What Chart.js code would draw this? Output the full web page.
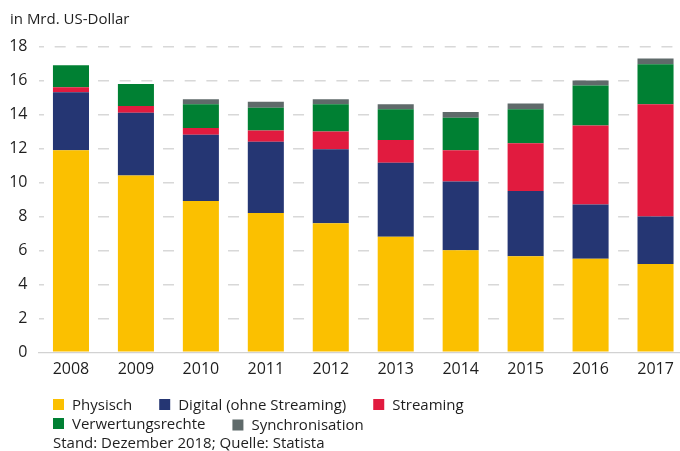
<!DOCTYPE html>
<html>
<head>
<meta charset="utf-8">
<script src="https://cdn.jsdelivr.net/npm/chart.js@4.4.1/dist/chart.umd.min.js"></script>
<style>
  html, body { margin: 0; padding: 0; background: #fff; overflow: hidden; }
  #wrap { width: 688px; height: 451px; }
</style>
</head>
<body>
<div id="wrap"><canvas id="myChart" width="688" height="451"></canvas></div>
<script>
const years = ['2008', '2009', '2010', '2011', '2012', '2013', '2014', '2015', '2016', '2017'];
const physisch = [11.9, 10.4, 8.9, 8.2, 7.6, 6.8, 6.0, 5.65, 5.5, 5.2];
const digital = [3.4, 3.7, 3.9, 4.2, 4.35, 4.35, 4.05, 3.85, 3.2, 2.8];
const streaming = [0.3, 0.4, 0.4, 0.65, 1.05, 1.35, 1.85, 2.8, 4.65, 6.6];
const verwertung = [1.3, 1.3, 1.4, 1.35, 1.6, 1.8, 1.9, 2.0, 2.35, 2.35];
const synchro = [0, 0, 0.3, 0.35, 0.3, 0.3, 0.35, 0.35, 0.3, 0.35];

const unitLabel = 'in Mrd. US-Dollar';
const sourceNote = 'Stand: Dezember 2018; Quelle: Statista';
const yMax = 18;
const yStep = 2;

const FONT = '"Open Sans", sans-serif';
const TEXT = '#1e1e1e';

// title, two-row legend and source line, drawn onto the canvas
const overlay = {
  id: 'overlay',
  afterDraw: (chart) => {
    const { ctx } = chart;
    ctx.save();
    ctx.font = '15px ' + FONT;
    ctx.fillStyle = TEXT;
    ctx.textBaseline = 'alphabetic';
    ctx.textAlign = 'left';
    ctx.fillText(unitLabel, 10, 24);

    const rows = [[0, 1, 2], [3, 4]];
    const baselines = [409.5, 428.5];
    rows.forEach((row, r) => {
      let x = 53;
      row.forEach((i) => {
        const ds = chart.data.datasets[i];
        const y = baselines[r] + (i === 4 ? 1.5 : 0);
        ctx.fillStyle = ds.backgroundColor;
        ctx.fillRect(x, y - 10.5, 11, 11);
        ctx.fillStyle = TEXT;
        ctx.fillText(ds.label, x + 19, y);
        x += 19 + ctx.measureText(ds.label).width + 27;
      });
    });
    ctx.fillText(sourceNote, 53, 448);
    ctx.restore();
  }
};

const config = {
  type: 'bar',
  data: {
    labels: years,
    datasets: [
      { label: 'Physisch', data: physisch, backgroundColor: '#FBC000' },
      { label: 'Digital (ohne Streaming)', data: digital, backgroundColor: '#253673' },
      { label: 'Streaming', data: streaming, backgroundColor: '#E11B3F' },
      { label: 'Verwertungsrechte', data: verwertung, backgroundColor: '#008033' },
      { label: 'Synchronisation', data: synchro, backgroundColor: '#5F6A6A' }
    ]
  },
  options: {
    responsive: false,
    animation: false,
    layout: {
      padding: { top: 46.5, left: 0, right: 0, bottom: 68.7 }
    },
    datasets: {
      bar: {
        borderWidth: 0,
        categoryPercentage: 1,
        barPercentage: 0.555
      }
    },
    scales: {
      x: {
        stacked: true,
        afterFit: (scale) => { scale.height = 30; },
        grid: { display: false, drawTicks: false },
        border: { display: true, color: '#d2d2d2', width: 1.2 },
        ticks: {
          color: TEXT,
          padding: 7.5,
          font: { family: FONT, size: 16 }
        }
      },
      y: {
        stacked: true,
        min: 0,
        max: yMax,
        afterFit: (scale) => { scale.width = 38.5; },
        grid: {
          color: (c) => c.tick && c.tick.value === 0 ? 'rgba(0,0,0,0)' : '#d8d8d8',
          lineWidth: 1.6,
          drawTicks: false
        },
        border: { display: false, dash: [11, 10.67], dashOffset: 6 },
        ticks: {
          stepSize: yStep,
          color: TEXT,
          padding: 11,
          font: { family: FONT, size: 16 }
        }
      }
    },
    plugins: {
      legend: { display: false },
      tooltip: { enabled: false }
    }
  },
  plugins: [overlay]
};

new Chart(document.getElementById('myChart').getContext('2d'), config);
</script>
</body>
</html>
